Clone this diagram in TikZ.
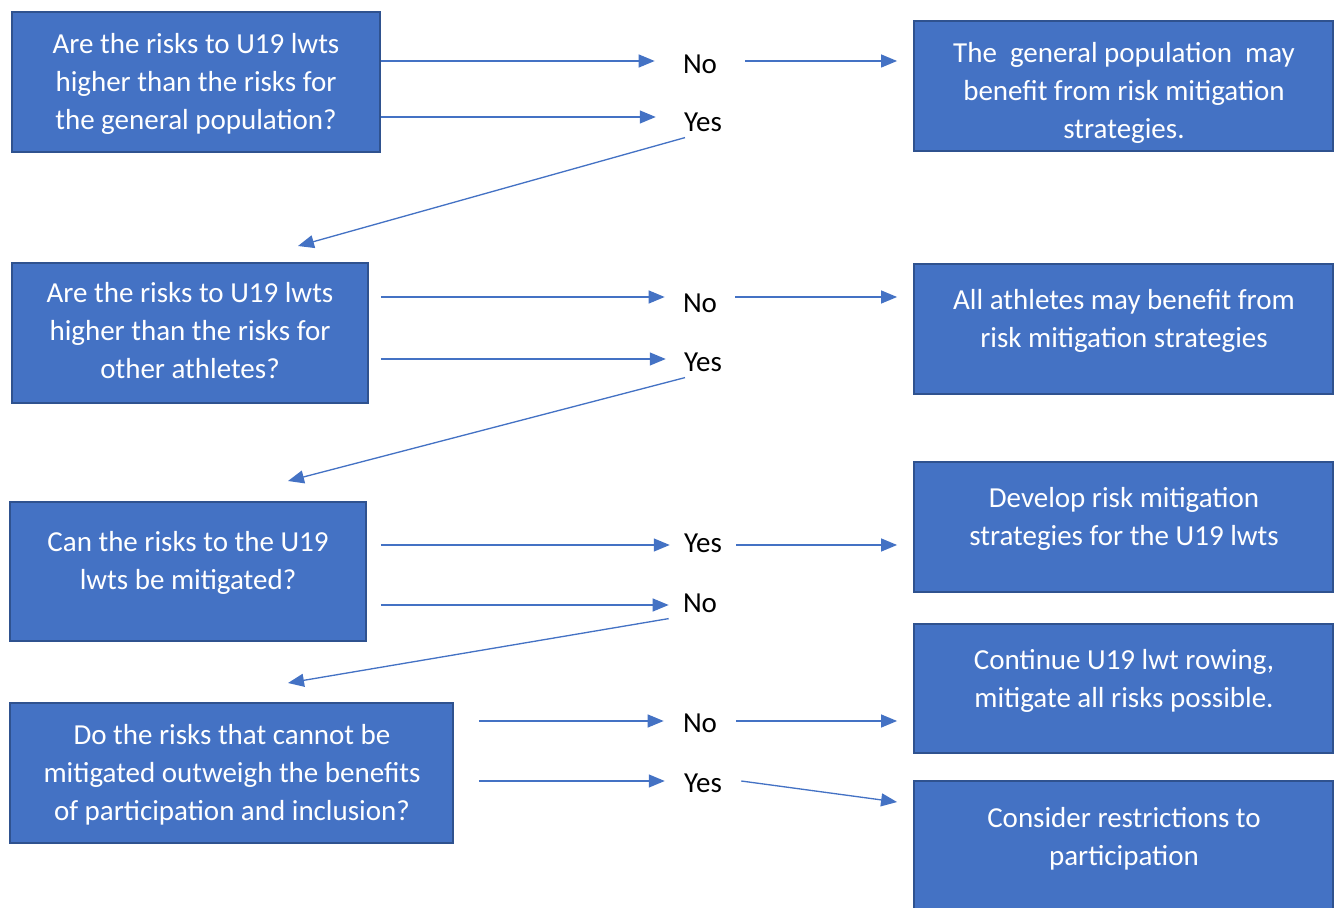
\documentclass[tikz,border=0pt]{standalone}
\usepackage{fontspec}
\setmainfont{Carlito}
\usetikzlibrary{arrows.meta}
\definecolor{boxblue}{HTML}{4472C4}
\definecolor{boxline}{HTML}{2F528F}

\begin{document}
\begin{tikzpicture}
    [x=0.02cm, y=-0.02cm,
     box/.style={draw=boxline, line width=1.1pt, fill=boxblue, inner sep=0pt},
     txt/.style={text=white, align=center, anchor=north, inner sep=0pt,
       font=\fontsize{16.5}{21.6}\selectfont},
     lbl/.style={inner xsep=#1, font=\fontsize{16.5}{21.6}\selectfont},
     arr/.style={draw=boxblue, line width=0.75pt,
       -{Triangle[length=0.32cm, width=0.26cm]}}]
    \useasboundingbox (0,0) rectangle (1340,908);

    % questions
    \node[box, minimum width=7.36cm, minimum height=2.8cm] (q1) at (196,82) {};
    \node[txt] (q1t) at (196,33) {Are the risks to U19 lwts\\higher than the risks for\\the general population?};
    \node[box, minimum width=7.12cm, minimum height=2.8cm] (q2) at (190,333) {};
    \node[txt] (q2t) at (190,282) {Are the risks to U19 lwts\\higher than the risks for\\other athletes?};
    \node[box, minimum width=7.12cm, minimum height=2.78cm] (q3) at (188,571.5) {};
    \node[txt] (q3t) at (188,531) {Can the risks to the U19\\lwts be mitigated?};
    \node[box, minimum width=8.86cm, minimum height=2.8cm] (q4) at (231.5,773) {};
    \node[txt] (q4t) at (232,724) {Do the risks that cannot be\\mitigated outweigh the benefits\\of participation and inclusion?};

    % outcomes
    \node[box, minimum width=8.38cm, minimum height=2.6cm] (r1) at (1123.5,86) {};
    \node[txt] (r1t) at (1124,42) {The\ \ general population\ \ may\\benefit from risk mitigation\\strategies.};
    \node[box, minimum width=8.38cm, minimum height=2.6cm] (r2) at (1123.5,329) {};
    \node[txt] (r2t) at (1124,289) {All athletes may benefit from\\risk mitigation strategies};
    \node[box, minimum width=8.38cm, minimum height=2.6cm] (r3) at (1123.5,527) {};
    \node[txt] (r3t) at (1124,487) {Develop risk mitigation\\strategies for the U19 lwts};
    \node[box, minimum width=8.38cm, minimum height=2.58cm] (r4) at (1123.5,688.5) {};
    \node[txt] (r4t) at (1124,649) {Continue U19 lwt rowing,\\mitigate all risks possible.};
    \node[box, minimum width=8.38cm, minimum height=2.8cm] (r5) at (1123.5,851) {};
    \node[txt] (r5t) at (1124,807) {Consider restrictions to\\participation};

    % answers
    \node[lbl=0.56cm] (no1) at (700,64) {No};
    \node[lbl=0.56cm] (yes1) at (703,122) {Yes};
    \node[lbl=0.36cm] (no2) at (700,303) {No};
    \node[lbl=0.36cm] (yes2) at (703,362) {Yes};
    \node[lbl=0.28cm] (yes3) at (703,543) {Yes};
    \node[lbl=0.28cm] (no3) at (700,603) {No};
    \node[lbl=0.38cm] (no4) at (700,723) {No};
    \node[lbl=0.38cm] (yes4) at (703,783) {Yes};

    \coordinate (t2) at (298,246);
    \coordinate (t3) at (288,481);
    \coordinate (t4) at (288,683);

    \draw[arr] ([yshift=0.06cm]q1.east |- no1.west) -- ([yshift=0.06cm]no1.west);
    \draw[arr, shorten >=0.32cm] ([yshift=0.06cm]no1.east) -- ([yshift=0.06cm]r1.west |- no1.east);
    \draw[arr] ([yshift=0.1cm]q1.east |- yes1.west) -- ([yshift=0.1cm]yes1.west);
    \draw[arr] ([xshift=-0.36cm]yes1.south) -- (t2);

    \draw[arr] ([xshift=0.24cm,yshift=0.12cm]q2.east |- no2.west) -- ([yshift=0.12cm]no2.west);
    \draw[arr, shorten >=0.32cm] ([yshift=0.12cm]no2.east) -- ([yshift=0.12cm]r2.west |- no2.east);
    \draw[arr] ([xshift=0.24cm,yshift=0.06cm]q2.east |- yes2.west) -- ([yshift=0.06cm]yes2.west);
    \draw[arr] ([xshift=-0.36cm]yes2.south) -- (t3);

    \draw[arr] ([xshift=0.28cm,yshift=-0.04cm]q3.east |- yes3.west) -- ([yshift=-0.04cm]yes3.west);
    \draw[arr, shorten >=0.32cm] ([yshift=-0.04cm]yes3.east) -- ([yshift=-0.04cm]r3.west |- yes3.east);
    \draw[arr] ([xshift=0.28cm,yshift=-0.04cm]q3.east |- no3.west) -- ([yshift=-0.04cm]no3.west);
    \draw[arr] (no3.south west) -- (t4);

    \draw[arr] ([xshift=0.5cm,yshift=0.04cm]q4.east |- no4.west) -- ([yshift=0.04cm]no4.west);
    \draw[arr, shorten >=0.32cm] ([yshift=0.04cm]no4.east) -- ([yshift=0.04cm]r4.west |- no4.east);
    \draw[arr] ([xshift=0.5cm,yshift=0.04cm]q4.east |- yes4.west) -- ([yshift=0.04cm]yes4.west);
    \draw[arr] ([yshift=0.04cm]yes4.east) -- ([shift={(-0.32cm,-0.44cm)}]r5.north west);
  \end{tikzpicture}
\end{document}
